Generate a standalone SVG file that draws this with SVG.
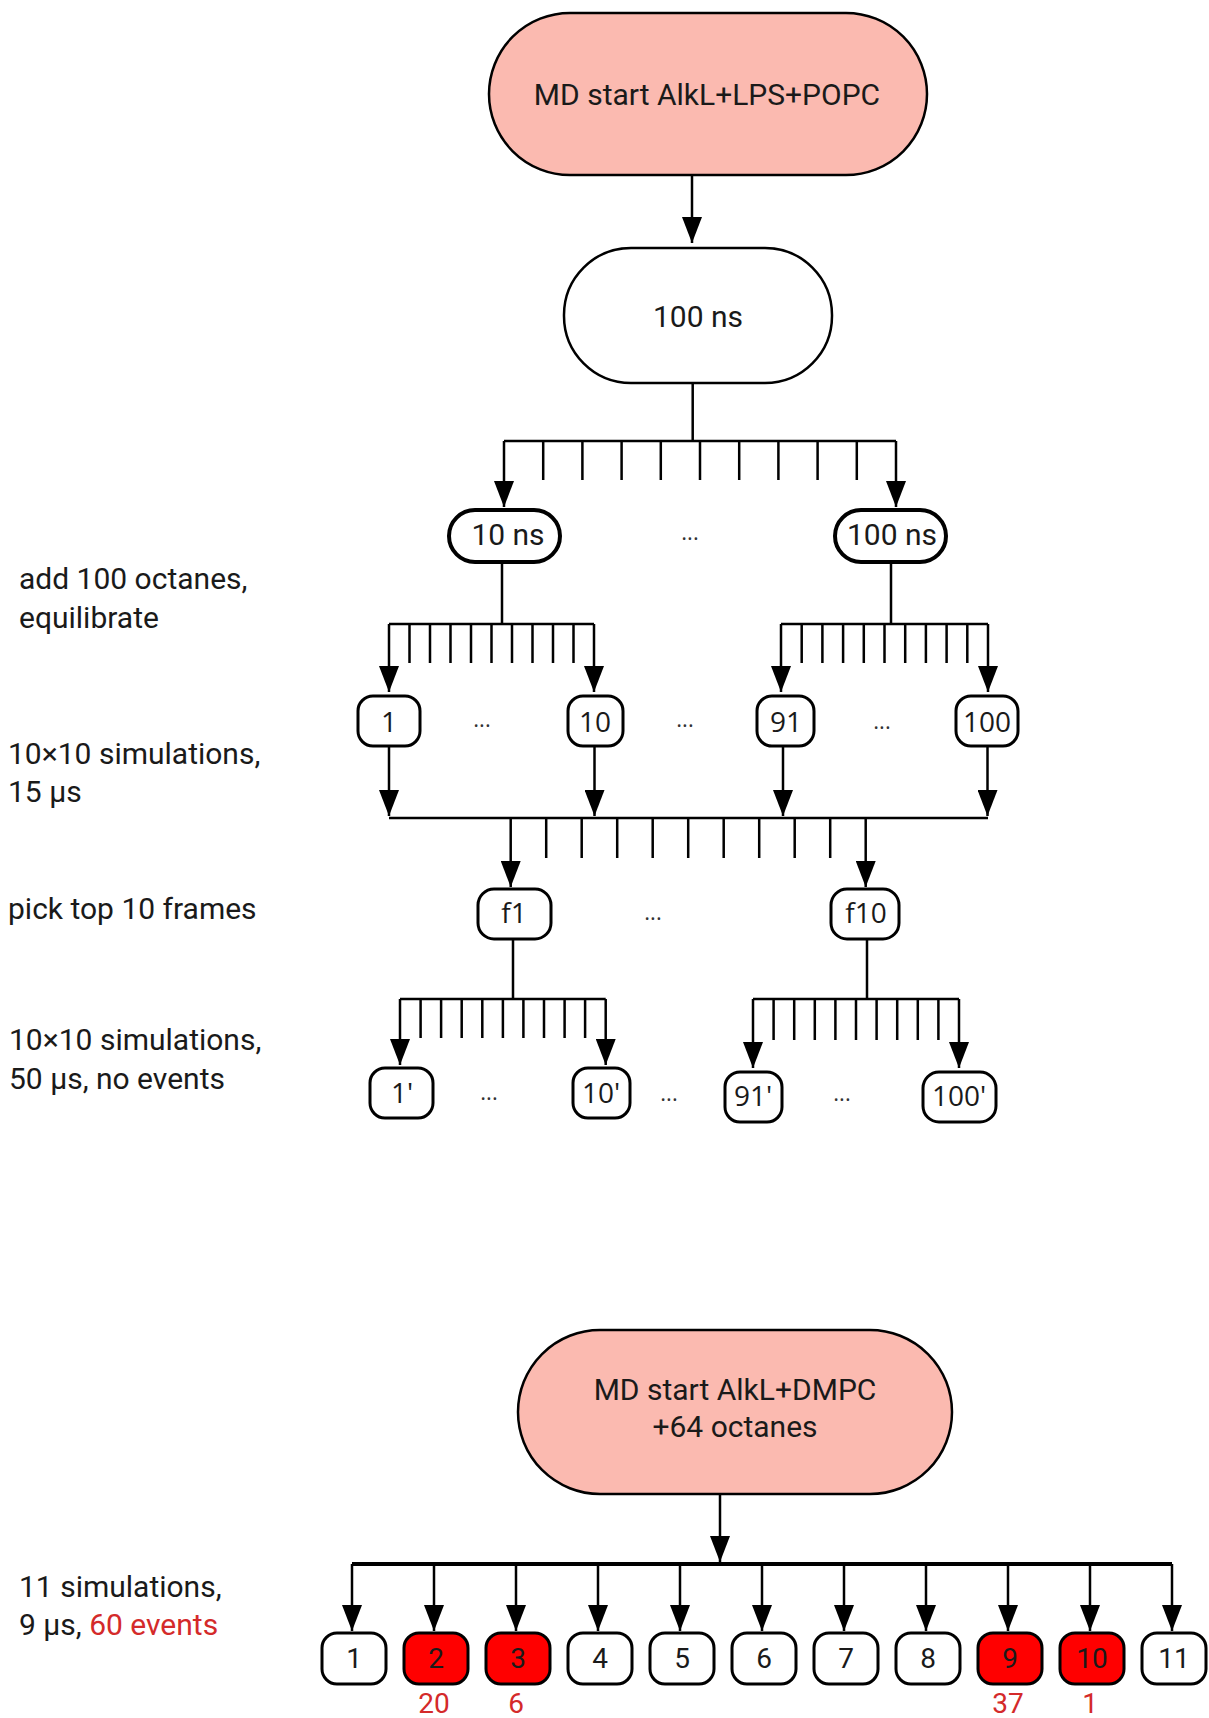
<svg xmlns="http://www.w3.org/2000/svg" width="1209" height="1718" viewBox="0 0 1209 1718">
<style>
.pink{fill:#fbbab0;stroke:#000;stroke-width:2.5}
.big{fill:#fff;stroke:#000;stroke-width:2.5}
.mid{fill:#fff;stroke:#000;stroke-width:4}
.num{fill:#fff;stroke:#000;stroke-width:3}
.red{fill:#ff0000;stroke:#000;stroke-width:3}
.t{font-family:Roboto,"Liberation Sans",sans-serif;font-size:30px;fill:#1a1a1a}
.c{text-anchor:middle}
.o{font-family:"Open Sans","Noto Sans",sans-serif;font-size:28px;fill:#1a1a1a;text-anchor:middle}
.b{font-family:Roboto,"Liberation Sans",sans-serif;font-size:28px;fill:#1a1a1a;text-anchor:middle}
.dots{font-family:"Open Sans",sans-serif;font-size:22px;fill:#333;text-anchor:middle}
.rt{font-family:Roboto,"Liberation Sans",sans-serif;font-size:28px;fill:#d42a2a;text-anchor:middle}
.ln{fill:none;stroke:#000;stroke-width:2.5}
.arr{fill:none;stroke:#000;stroke-width:2.5;marker-end:url(#ah)}
</style>
<defs>
<marker id="ah" markerUnits="userSpaceOnUse" markerWidth="26" markerHeight="20" viewBox="0 0 26 20" refX="26" refY="10" orient="auto">
<path d="M0,0 L26,10 L0,20 z" fill="#000"/>
</marker>
</defs>

<g id="labels">
<text class="t" x="19" y="589">add 100 octanes,</text>
<text class="t" x="19" y="628">equilibrate</text>
<text class="t" x="8" y="764">10×10 simulations,</text>
<text class="t" x="8" y="802">15 µs</text>
<text class="t" x="8" y="919">pick top 10 frames</text>
<text class="t" x="9" y="1050">10×10 simulations,</text>
<text class="t" x="9" y="1089">50 µs, no events</text>
<text class="t" x="19" y="1597">11 simulations,</text>
<text class="t" x="19" y="1635">9 µs, <tspan fill="#d42a2a">60 events</tspan></text>
</g>

<g id="connectors">
<path class="arr" d="M692,175 V243"/>
<path class="ln" d="M692.7,383 V441 M504,441 H896 M543.2,441 V480 M582.4,441 V480 M621.6,441 V480 M660.8,441 V480 M700,441 V480 M739.2,441 V480 M778.4,441 V480 M817.6,441 V480 M856.8,441 V480"/>
<path class="arr" d="M504,441 V507"/>
<path class="arr" d="M896,441 V507"/>

<path class="ln" d="M502,562 V624 M389,624 H594 M409.5,624 V663 M430,624 V663 M450.5,624 V663 M471,624 V663 M491.5,624 V663 M512,624 V663 M532.5,624 V663 M553,624 V663 M573.5,624 V663"/>
<path class="arr" d="M389,624 V692"/>
<path class="arr" d="M594,624 V692"/>
<path class="ln" d="M891,562 V624 M781,624 H988 M801.7,624 V663 M822.4,624 V663 M843.1,624 V663 M863.8,624 V663 M884.5,624 V663 M905.2,624 V663 M925.9,624 V663 M946.6,624 V663 M967.3,624 V663"/>
<path class="arr" d="M781,624 V692"/>
<path class="arr" d="M988,624 V692"/>

<path class="arr" d="M389,746 V816"/>
<path class="arr" d="M594.5,746 V816"/>
<path class="arr" d="M783,746 V816"/>
<path class="arr" d="M987.5,746 V816"/>
<path class="ln" d="M389,818 H988 M546.2,818 V858 M581.7,818 V858 M617.2,818 V858 M652.7,818 V858 M688.2,818 V858 M723.7,818 V858 M759.2,818 V858 M794.7,818 V858 M830.2,818 V858"/>
<path class="arr" d="M510.7,818 V887"/>
<path class="arr" d="M865.7,818 V887"/>

<path class="ln" d="M513,939 V999 M400,999 H605.7 M420.6,999 V1038 M441.1,999 V1038 M461.7,999 V1038 M482.3,999 V1038 M502.9,999 V1038 M523.4,999 V1038 M544,999 V1038 M564.6,999 V1038 M585.1,999 V1038"/>
<path class="arr" d="M400,999 V1065"/>
<path class="arr" d="M605.7,999 V1065"/>
<path class="ln" d="M867,938 V999 M753,999 H959 M773.6,999 V1040 M794.2,999 V1040 M814.8,999 V1040 M835.4,999 V1040 M856,999 V1040 M876.6,999 V1040 M897.2,999 V1040 M917.8,999 V1040 M938.4,999 V1040"/>
<path class="arr" d="M753,999 V1068"/>
<path class="arr" d="M959,999 V1068"/>

<path class="arr" d="M720,1494 V1562"/>
<path class="ln" style="stroke-width:4" d="M352,1564 H1172"/>
<path class="arr" d="M352,1564 V1631"/>
<path class="arr" d="M434,1564 V1631"/>
<path class="arr" d="M516,1564 V1631"/>
<path class="arr" d="M598,1564 V1631"/>
<path class="arr" d="M680,1564 V1631"/>
<path class="arr" d="M762,1564 V1631"/>
<path class="arr" d="M844,1564 V1631"/>
<path class="arr" d="M926,1564 V1631"/>
<path class="arr" d="M1008,1564 V1631"/>
<path class="arr" d="M1090,1564 V1631"/>
<path class="arr" d="M1172,1564 V1631"/>
</g>

<g id="n-start1"><rect class="pink" x="489" y="13" width="438" height="162" rx="81"/><text class="t c" x="707" y="105">MD start AlkL+LPS+POPC</text></g>
<g id="n-100ns"><rect class="big" x="564" y="248" width="268" height="135" rx="67"/><text class="t c" x="698" y="327">100 ns</text></g>
<g id="n-10ns"><rect class="mid" x="449" y="510" width="111" height="52" rx="26"/><text class="t c" x="508" y="545">10 ns</text></g>
<g id="n-100ns-b"><rect class="mid" x="835" y="510" width="111" height="52" rx="26"/><text class="t c" x="892" y="545">100 ns</text></g>
<text class="dots" x="690" y="540">...</text>

<g id="n-1"><rect class="num" x="358" y="696" width="62" height="50" rx="15"/><text class="o" x="389" y="732">1</text></g>
<g id="n-10"><rect class="num" x="568" y="696" width="55" height="50" rx="15"/><text class="o" x="595" y="732">10</text></g>
<g id="n-91"><rect class="num" x="757" y="696" width="57" height="50" rx="15"/><text class="o" x="786" y="732">91</text></g>
<g id="n-100"><rect class="num" x="956" y="696" width="62" height="50" rx="15"/><text class="o" x="987" y="732">100</text></g>
<text class="dots" x="482" y="727">...</text>
<text class="dots" x="685" y="727">...</text>
<text class="dots" x="882" y="729">...</text>

<g id="n-f1"><rect class="num" x="478" y="889" width="73" height="50" rx="16"/><text class="o" x="514" y="923">f1</text></g>
<g id="n-f10"><rect class="num" x="831" y="889" width="68" height="50" rx="16"/><text class="o" x="866" y="923">f10</text></g>
<text class="dots" x="653" y="920">...</text>

<g id="n-1p"><rect class="num" x="370" y="1068" width="63" height="50" rx="15"/><text class="o" x="402" y="1103">1'</text></g>
<g id="n-10p"><rect class="num" x="573" y="1068" width="57" height="50" rx="15"/><text class="o" x="601" y="1103">10'</text></g>
<g id="n-91p"><rect class="num" x="725" y="1072" width="57" height="50" rx="15"/><text class="o" x="753" y="1106">91'</text></g>
<g id="n-100p"><rect class="num" x="923" y="1072" width="73" height="50" rx="16"/><text class="o" x="959" y="1106">100'</text></g>
<text class="dots" x="489" y="1100">...</text>
<text class="dots" x="669" y="1101">...</text>
<text class="dots" x="842" y="1101">...</text>

<g id="n-start2"><rect class="pink" x="518" y="1330" width="434" height="164" rx="82"/><text class="t c" x="735" y="1400">MD start AlkL+DMPC</text><text class="t c" x="735" y="1437">+64 octanes</text></g>

<g id="s1"><rect class="num" x="322" y="1633" width="64" height="51" rx="15"/><text class="b" x="354" y="1668">1</text></g>
<g id="s2"><rect class="red" x="404" y="1633" width="64" height="51" rx="15"/><text class="b" x="436" y="1668">2</text></g>
<g id="s3"><rect class="red" x="486" y="1633" width="64" height="51" rx="15"/><text class="b" x="518" y="1668">3</text></g>
<g id="s4"><rect class="num" x="568" y="1633" width="64" height="51" rx="15"/><text class="b" x="600" y="1668">4</text></g>
<g id="s5"><rect class="num" x="650" y="1633" width="64" height="51" rx="15"/><text class="b" x="682" y="1668">5</text></g>
<g id="s6"><rect class="num" x="732" y="1633" width="64" height="51" rx="15"/><text class="b" x="764" y="1668">6</text></g>
<g id="s7"><rect class="num" x="814" y="1633" width="64" height="51" rx="15"/><text class="b" x="846" y="1668">7</text></g>
<g id="s8"><rect class="num" x="896" y="1633" width="64" height="51" rx="15"/><text class="b" x="928" y="1668">8</text></g>
<g id="s9"><rect class="red" x="978" y="1633" width="64" height="51" rx="15"/><text class="b" x="1010" y="1668">9</text></g>
<g id="s10"><rect class="red" x="1060" y="1633" width="64" height="51" rx="15"/><text class="b" x="1092" y="1668">10</text></g>
<g id="s11"><rect class="num" x="1142" y="1633" width="64" height="51" rx="15"/><text class="b" x="1174" y="1668">11</text></g>

<g id="counts">
<text class="rt" x="434" y="1713">20</text>
<text class="rt" x="516" y="1713">6</text>
<text class="rt" x="1008" y="1713">37</text>
<text class="rt" x="1090" y="1713">1</text>
</g>
</svg>
